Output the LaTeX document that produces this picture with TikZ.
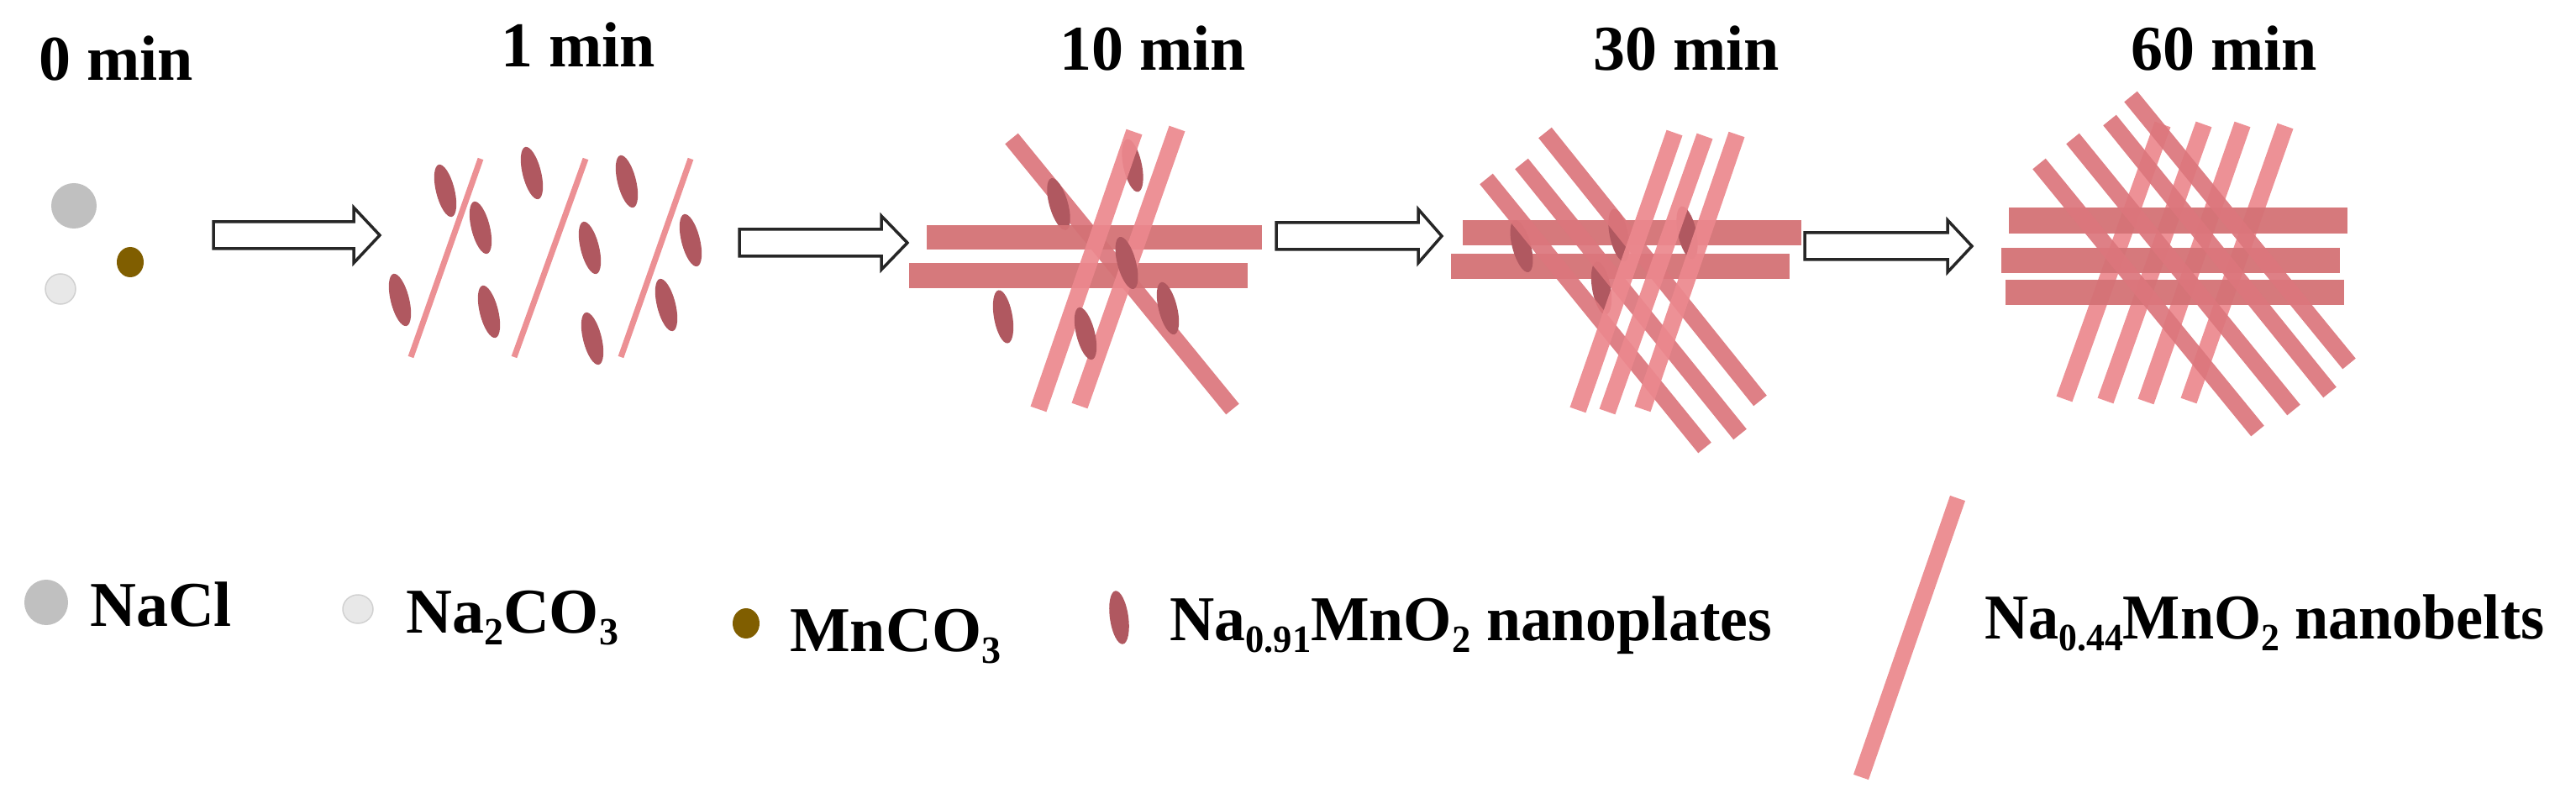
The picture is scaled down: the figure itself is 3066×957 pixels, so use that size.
\documentclass[tikz,border=0pt]{standalone}
\usepackage{fontspec}
\setmainfont{Liberation Serif}
\begin{document}
\begin{tikzpicture}[x=1pt,y=-1pt,
  lbl/.style={anchor=base west,inner sep=0pt,font=\fontsize{76}{80}\selectfont\bfseries},
  blockarrow/.style={draw=black!85,line width=3.5pt,fill=white,line join=miter},
  belt/.style={line width=20pt,line cap=butt},
  beltA/.style={belt,draw=beltdark,opacity=.92},
  beltB/.style={belt,draw=beltlight,opacity=.92},
  bar/.style={fill=bardark,opacity=.95},
  plate/.style={fill=platec}]
\definecolor{greyc}{RGB}{192,192,192}
\definecolor{lightc}{RGB}{232,232,232}
\definecolor{brownc}{RGB}{128,94,0}
\definecolor{platec}{RGB}{176,88,96}
\definecolor{thinbelt}{RGB}{236,144,148}
\definecolor{beltlight}{RGB}{236,136,142}
\definecolor{beltdark}{RGB}{220,118,124}
\definecolor{bardark}{RGB}{212,114,118}
\newcommand{\sbs}[1]{\raisebox{-14pt}{\fontsize{46}{50}\selectfont #1}}
\newcommand{\plt}[3]{\fill[plate,rotate around={#3:(#1,#2)}] (#1,#2) ellipse (11 and 32);}
\newcommand{\barr}[4]{\fill[bar] (#1,#3) rectangle (#2,#4);}
\newcommand{\barrow}[6]{% x0 xh x1 yc hs hh
  \draw[blockarrow] (#1,#4-#5) -- (#2,#4-#5) -- (#2,#4-#6) -- (#3,#4) -- (#2,#4+#6) -- (#2,#4+#5) -- (#1,#4+#5) -- cycle;}
\useasboundingbox[fill=white] (0,0) rectangle (3066,957);

% labels
\node[lbl] (t0) at (46,96) {0 min};
\node[lbl] (t1) at (596,80) {1 min};
\node[lbl] (t10) at (1261,84) {10 min};
\node[lbl] (t30) at (1896,84) {30 min};
\node[lbl] (t60) at (2536,84) {60 min};

% 0 min
\fill[greyc] (88,245) circle (27);
\filldraw[fill=lightc,draw=black!18,line width=1.5pt] (72,344) circle (18);
\fill[brownc] (155,312) ellipse (16 and 18);

% arrows
\barrow{254}{421}{452}{280}{16}{33}
\barrow{880}{1049}{1080}{289}{16}{32}
\barrow{1519}{1688}{1716}{281}{16}{32}
\barrow{2148}{2318}{2347}{293}{16}{31}

% 1 min
\foreach \a/\b in {572/489,697/612,822/739}
  \draw[thinbelt,line width=7pt] (\a,189) -- (\b,425);
\plt{530}{227}{14}\plt{633}{206}{14}\plt{746}{216}{14}
\plt{572}{271}{14}\plt{702}{295}{14}\plt{822}{286}{14}
\plt{476}{357}{14}\plt{582}{371}{14}\plt{793}{363}{14}
\plt{705}{403}{14}

% 10 min
\draw[beltA] (1204,165) -- (1467,487);
\plt{1260}{243}{16}\plt{1348}{197}{12}
\barr{1103}{1502}{268}{297}
\barr{1082}{1485}{313}{343}
\draw[beltB] (1350,157) -- (1236,487);
\draw[beltB] (1401,153) -- (1285,483);
\plt{1341}{313}{15}\plt{1390}{367}{14}\plt{1194}{377}{10}\plt{1292}{397}{14}

% 30 min
\barr{1741}{2144}{262}{292}
\barr{1727}{2130}{302}{332}
\plt{1811}{293}{15}\plt{1927}{280}{12}\plt{2008}{277}{12}\plt{1906}{343}{10}
\draw[beltA] (1769,213) -- (2029,533);
\draw[beltA] (1811,195) -- (2071,517);
\draw[beltA] (1839,158) -- (2095,477);
\draw[beltB] (1993,158) -- (1878,488);
\draw[beltB] (2029,162) -- (1913,490);
\draw[beltB] (2067,160) -- (1955,487);

% 60 min
\draw[beltB] (2574,148) -- (2457,475);
\draw[beltB] (2623,148) -- (2506,477);
\draw[beltB] (2669,148) -- (2554,478);
\draw[beltB] (2720,150) -- (2605,477);
\barr{2391}{2794}{247}{278}
\barr{2382}{2785}{295}{325}
\barr{2387}{2790}{333}{363}
\draw[beltA] (2427,195) -- (2687,513);
\draw[beltA] (2467,165) -- (2730,488);
\draw[beltA] (2511,143) -- (2773,467);
\draw[beltA] (2536,115) -- (2796,433);

% legend
\fill[greyc] (55,717) ellipse (26 and 27);
\node[lbl] (lnacl) at (107,745) {NaCl};
\filldraw[fill=lightc,draw=black!18,line width=1.5pt] (426,725) ellipse (18 and 17);
\node[lbl] (lna2) at (483,753) {Na\sbs{2}CO\sbs{3}};
\fill[brownc] (888,742) ellipse (16 and 18);
\node[lbl] (lmn) at (940,775) {MnCO\sbs{3}};
\plt{1332}{735}{8}
\node[lbl] (lplate) at (1392,762) {\scalebox{0.97}[1]{Na\sbs{0.91}MnO\sbs{2} nanoplates}};
\draw[thinbelt,line width=19pt] (2330,593) -- (2215,925);
\node[lbl] (lbelt) at (2362,760) {\scalebox{0.95}[1]{Na\sbs{0.44}MnO\sbs{2} nanobelts}};
\end{tikzpicture}
\end{document}
